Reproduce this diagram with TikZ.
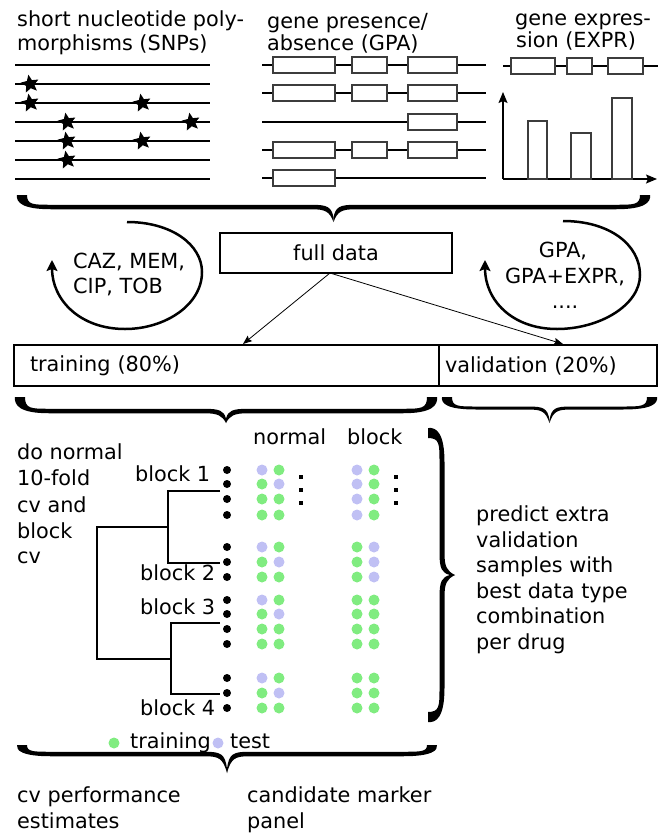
\documentclass[tikz,border=0pt]{standalone}
\usepackage{fontspec}
\setmainfont{DejaVu Sans}
\usetikzlibrary{arrows.meta,shapes.geometric}
\definecolor{trgreen}{RGB}{128,236,128}
\definecolor{tslav}{RGB}{192,192,244}
\definecolor{boxgray}{RGB}{60,60,60}
\newcommand\BraceHalf[4]{%
  \fill (0,0) -- (10,0) .. controls (10,{#2-#4/2}) and (16,{#2-#4/2}) .. (34,{#2-#4/2})
     -- ({#1/2-22},{#2-#4/2}) .. controls ({#1/2-6},{#2-#4/2}) and ({#1/2-2},{#2}) .. ({#1/2},{#3-#4})
     -- ({#1/2},{#3}) .. controls ({#1/2-4},{#2+#4}) and ({#1/2-8},{#2+#4/2}) .. ({#1/2-22},{#2+#4/2})
     -- (34,{#2+#4/2}) .. controls (5,{#2+#4/2}) and (-1,{#2*0.6}) .. cycle;}
\newcommand\MyBrace[4]{\BraceHalf{#1}{#2}{#3}{#4}%
  \begin{scope}[shift={(#1,0)},xscale=-1]\BraceHalf{#1}{#2}{#3}{#4}\end{scope}}
\begin{document}
\begin{tikzpicture}[x=1pt,y=-1pt,
  every node/.style={font=\fontsize{20.8}{26}\selectfont},
  lbl/.style={anchor=base west,inner sep=0pt},
  clbl/.style={anchor=base,inner sep=0pt},
  snpline/.style={line width=1.3pt},
  snpstar/.style={star,star points=5,star point ratio=2.2,fill=black,inner sep=0pt,minimum size=19pt,draw=none,rotate=10},
  genebox/.style={draw=boxgray,line width=1.2pt,fill=white},
  axisarr/.style={line width=1.3pt,-{Stealth[length=11pt,width=9pt,inset=2pt]}},
  loop/.style={line width=2.5pt,-{Stealth[length=11pt,width=11pt,inset=2pt]}},
  thinarr/.style={line width=0.8pt,-{Stealth[length=9pt,width=7pt,inset=1.5pt]}},
  dendro/.style={line width=1.5pt},
  bar/.style={draw,line width=2.2pt,outer sep=0pt,inner ysep=0pt,anchor=north west,minimum height=41pt,align=left}
]
\useasboundingbox (0,0) rectangle (658,833);

% ---------- headers
\node[lbl] (t1a) at (17,26) {short nucleotide poly-};
\node[lbl] (t1b) at (17,50) {morphisms (SNPs)};
\node[lbl] (t2a) at (267,28) {gene presence/};
\node[lbl] (t2b) at (267,50) {absence (GPA)};
\node[lbl] (t3a) at (515,25) {gene expres-};
\node[lbl] (t3b) at (516,47) {sion (EXPR)};

% ---------- SNPs
\foreach \y in {65,84,103,122,141,160,179} \draw[snpline] (15,\y) -- (210,\y);
\node[snpstar] (s1) at (30,84) {};
\node[snpstar] (s2) at (30,103) {};
\node[snpstar] (s3) at (142,103) {};
\node[snpstar] (s4) at (67,122) {};
\node[snpstar] (s5) at (191,122) {};
\node[snpstar] (s6) at (67,141) {};
\node[snpstar] (s7) at (142,141) {};
\node[snpstar] (s8) at (67,160) {};

% ---------- GPA
\foreach \y in {65,93,122,150,178} \draw[line width=1.2pt] (262,\y) -- (486,\y);
\foreach \y in {65,93,150,178} \draw[genebox] (273,\y-8) rectangle (335,\y+8);
\foreach \y in {65,93,150} \draw[genebox] (352,\y-8) rectangle (387,\y+8);
\foreach \y in {65,93,122,150} \draw[genebox] (408,\y-8) rectangle (457,\y+8);

% ---------- EXPR
\draw[line width=1.2pt] (503,66) -- (658,66);
\draw[genebox] (511,58) rectangle (555,74);
\draw[genebox] (567,58) rectangle (592,74);
\draw[genebox] (608,58) rectangle (643,74);
\draw[axisarr] (503,179) -- (503,92);
\draw[axisarr] (503,179) -- (657,179);
\draw[genebox] (528,179) rectangle (547,121);
\draw[genebox] (571,179) rectangle (591,133);
\draw[genebox] (612,179) rectangle (632,98);

% ---------- top brace
\begin{scope}[shift={(17,195)}]\MyBrace{633}{12}{27}{4.5}\end{scope}

% ---------- full data and loops
\node[draw,line width=1.5pt,outer sep=0pt,minimum width=232pt,minimum height=40pt,inner sep=0pt] (full) at (336,253) {full data};

\coordinate (la) at (127,222);
\coordinate (lb) at (202,272);
\coordinate (lc) at (125,329);
\coordinate (ld) at (52,260);
\draw[loop] (la) .. controls (172,222) and (202,245) .. (lb)
   .. controls (202,305) and (165,329) .. (lc)
   .. controls (80,329) and (52,300) .. (ld);
\node[lbl] (caz) at (73,268) {CAZ, MEM,};
\node[lbl] (cip) at (73,293) {CIP, TOB};

\coordinate (ra) at (563,221);
\coordinate (rb) at (640,275);
\coordinate (rc) at (557,329);
\coordinate (rd) at (485,260);
\draw[loop] (ra) .. controls (610,221) and (640,245) .. (rb)
   .. controls (640,305) and (600,329) .. (rc)
   .. controls (512,329) and (485,300) .. (rd);
\node[clbl] (g1) at (563,257) {GPA,};
\node[clbl] (g2) at (565,283) {GPA+EXPR,};
\node[clbl] (g3) at (565,308) {....};

% ---------- training / validation
\node[bar,text width=393pt,inner xsep=16pt] (train) at (14,345) {training (80\%)};
\node[bar,text width=206pt,inner xsep=6pt] (valid) at (439,345) {validation (20\%)};
\coordinate (fd) at ([xshift=-6pt]full.south);
\coordinate (tin) at (243,344);
\coordinate (vin) at (563,344);
\draw[thinarr] (fd) -- (tin);
\draw[thinarr] (fd) -- (vin);

\begin{scope}[shift={(15,397)}]\MyBrace{422}{14}{26}{4.5}\end{scope}
\begin{scope}[shift={(442,397)}]\MyBrace{215}{11}{26}{3}\end{scope}

% ---------- cv section
\node[lbl] (d1) at (17,459) {do normal};
\node[lbl] (d2) at (17,485) {10-fold};
\node[lbl] (d3) at (17,512) {cv and};
\node[lbl] (d4) at (17,538) {block};
\node[lbl] (d5) at (17,563) {cv};

\node[lbl] (hn) at (253,444) {normal};
\node[lbl] (hb) at (347,444) {block};

\node[lbl] (b1) at (135,481) {block 1};
\node[lbl] (b2) at (140,580) {block 2};
\node[lbl] (b3) at (140,614) {block 3};
\node[lbl] (b4) at (140,715) {block 4};

\draw[dendro] (220,491) -- (168,491) -- (168,563) -- (220,563);
\draw[dendro] (168,527) -- (97,527) -- (97,659) -- (171,659);
\draw[dendro] (220,623) -- (171,623) -- (171,694) -- (220,694);

\foreach \y/\ca/\cb/\cc/\cd in {
  470/tslav/trgreen/tslav/trgreen,
  484/trgreen/tslav/tslav/trgreen,
  499/trgreen/trgreen/tslav/trgreen,
  515/trgreen/trgreen/tslav/trgreen,
  547/tslav/trgreen/trgreen/tslav,
  562/trgreen/tslav/trgreen/tslav,
  577/trgreen/trgreen/trgreen/tslav,
  600/tslav/trgreen/trgreen/trgreen,
  614/trgreen/tslav/trgreen/trgreen,
  629/trgreen/trgreen/trgreen/trgreen,
  644/trgreen/trgreen/trgreen/trgreen,
  678/tslav/trgreen/trgreen/trgreen,
  693/trgreen/tslav/trgreen/trgreen,
  708/trgreen/trgreen/trgreen/trgreen}{
  \fill[black] (227,\y) circle[radius=4pt];
  \fill[\ca] (262,\y) circle[radius=5.5pt];
  \fill[\cb] (279,\y) circle[radius=5.5pt];
  \fill[\cc] (357,\y) circle[radius=5.5pt];
  \fill[\cd] (374,\y) circle[radius=5.5pt];
}
\foreach \x in {301,396} \foreach \y in {477,490,503}
  \fill (\x-2,\y-2) rectangle (\x+2,\y+2);

% ---------- right brace and text
\begin{scope}[shift={(428,722)},rotate=90]\MyBrace{294}{14}{27}{5}\end{scope}
\node[lbl] (p1) at (476,521) {predict extra};
\node[lbl] (p2) at (476,547) {validation};
\node[lbl] (p3) at (476,572) {samples with};
\node[lbl] (p4) at (476,598) {best data type};
\node[lbl] (p5) at (476,623) {combination};
\node[lbl] (p6) at (476,649) {per drug};

% ---------- legend
\fill[trgreen] (114,743) circle[radius=5.5pt];
\node[lbl] (lt) at (130,748) {training};
\fill[tslav] (218,743) circle[radius=5.5pt];
\node[lbl] (ls) at (230,748) {test};

% ---------- bottom brace and texts
\begin{scope}[shift={(17,745)}]\MyBrace{420}{9}{28}{4.5}\end{scope}
\node[lbl] (c1) at (17,802) {cv performance};
\node[lbl] (c2) at (17,828) {estimates};
\node[lbl] (m1) at (247,802) {candidate marker};
\node[lbl] (m2) at (247,828) {panel};
\end{tikzpicture}
\end{document}
